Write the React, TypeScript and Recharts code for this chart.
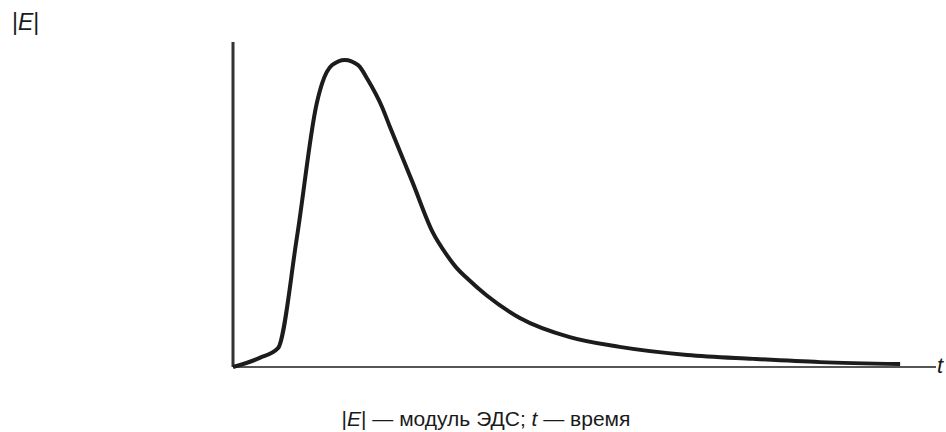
import { LineChart, Line, XAxis, YAxis, ReferenceLine } from 'recharts'

// time (arbitrary units, 0..100) and |E| (arbitrary units, 0..100)
const times = [0, 3.8, 6.4, 9.1, 11.9, 12.7, 14.1, 15.9, 17.8, 19.2, 21.2, 22.3, 25.6, 28.4, 30.4, 31.8, 33.3, 36.1, 40.8, 47.9, 55.0, 64.6, 74.0, 83.5, 94.9]
const emf = [0, 2.8, 5.8, 40, 81, 87.4, 92.9, 94.5, 92.9, 88.3, 80, 74, 56.5, 41.5, 34.5, 30.5, 27.3, 22, 15.1, 9.2, 6.2, 3.7, 2.5, 1.5, 0.9]

const data = times.map((t, i) => ({ t, e: emf[i] }))

const font = '"Liberation Sans", Arial, sans-serif'

export default function App() {
  return (
    <div style={{ position: 'absolute', left: 0, top: 0, width: 946, height: 432, background: '#fff', fontFamily: font, color: '#1a1a1a' }}>
      <LineChart width={946} height={432} data={data} margin={{ top: 42, right: 10, bottom: 65, left: 233 }}>
        <XAxis dataKey="t" type="number" domain={[0, 100]} hide />
        <YAxis type="number" domain={[0, 100]} hide />
        <ReferenceLine y={0} stroke="#555" strokeWidth={2} />
        <ReferenceLine x={0} stroke="#333" strokeWidth={3} />
        <Line
          dataKey="e"
          type="monotone"
          stroke="#1c1c1c"
          strokeWidth={4}
          dot={false}
          isAnimationActive={false}
        />
      </LineChart>
      <div style={{ position: 'absolute', left: 12, top: 9, fontSize: 23 }}>
        |<i>E</i>|
      </div>
      <div style={{ position: 'absolute', left: 937, top: 353, fontSize: 22 }}>
        <i>t</i>
      </div>
      <div style={{ position: 'absolute', left: 0, width: 972, top: 407, fontSize: 21, textAlign: 'center' }}>
        |<i>E</i>| — модуль ЭДС; <i>t</i> — время
      </div>
    </div>
  )
}
